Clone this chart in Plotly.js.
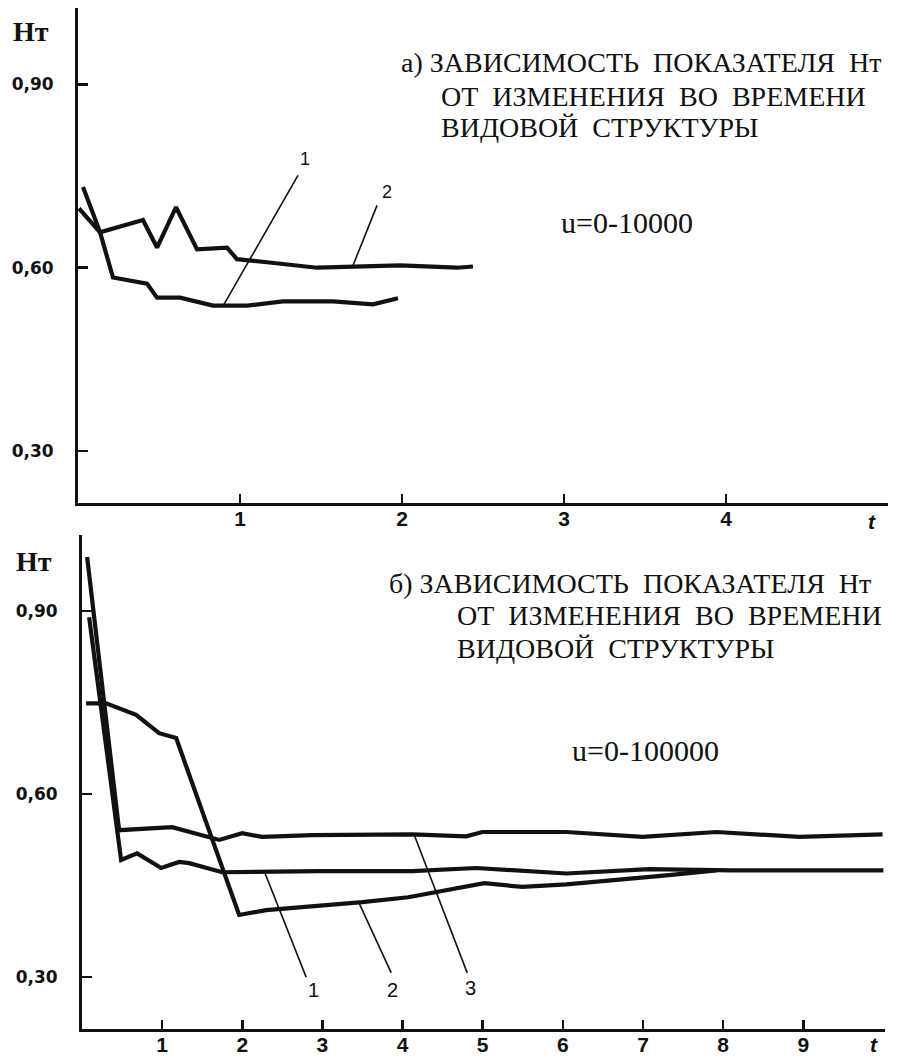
<!DOCTYPE html>
<html>
<head>
<meta charset="utf-8">
<script src="https://cdn.plot.ly/plotly-3.0.1.min.js"></script>
<style>html,body{margin:0;padding:0;background:#fff;}#chart{width:905px;height:1061px;}</style>
</head>
<body>
<div id="chart"></div>
<script>
// ---- data: panel a (u=0-10000) ----
const tTop1 = [0.031,0.136,0.216,0.426,0.488,0.630,0.833,1.043,1.265,1.574,1.821,1.975];
const hTop1 = [0.732,0.658,0.584,0.574,0.551,0.551,0.538,0.538,0.545,0.545,0.540,0.550];
const tTop2 = [0.006,0.136,0.401,0.488,0.605,0.735,0.920,0.981,1.167,1.475,1.988,2.340,2.438];
const hTop2 = [0.697,0.658,0.678,0.633,0.699,0.630,0.633,0.614,0.609,0.600,0.604,0.600,0.602];
// ---- data: panel b (u=0-100000) ----
const tBot1 = [0.089,0.488,0.688,0.988,1.212,1.337,1.749,2.960,4.121,4.920,6.044,7.079,8.114,10.0];
const hBot1 = [0.890,0.492,0.503,0.479,0.489,0.487,0.472,0.474,0.474,0.479,0.470,0.477,0.475,0.475];
const tBot2 = [0.051,0.301,0.675,0.962,1.175,1.961,2.298,3.497,4.071,5.020,5.494,6.044,7.292,7.917];
const hBot2 = [0.749,0.749,0.730,0.700,0.692,0.402,0.410,0.423,0.431,0.454,0.448,0.452,0.467,0.475];
const tBot3 = [0.064,0.463,1.125,1.337,1.712,1.999,2.248,2.873,4.121,4.795,4.995,6.044,6.993,7.917,8.953,9.989];
const hBot3 = [0.989,0.541,0.546,0.538,0.525,0.536,0.530,0.533,0.534,0.531,0.538,0.538,0.530,0.538,0.530,0.534];

// ticks
const yTickVals = [0.3, 0.6, 0.9];
const yTickText = ["0,30", "0,60", "0,90"];
const xTickTop = [1, 2, 3, 4];
const xTickBot = [1, 2, 3, 4, 5, 6, 7, 8, 9];

// curve labels with leader lines: [label, tFrom, hFrom, tTo, hTo, tLabel, hLabel]
const leadersTop = [
  ["1", 1.358, 0.751, 0.901, 0.540, 1.401, 0.778],
  ["2", 1.846, 0.702, 1.698, 0.604, 1.907, 0.724]
];
const leadersBot = [
  ["1", 2.797, 0.300, 2.273, 0.474, 2.885, 0.279],
  ["2", 3.859, 0.307, 3.459, 0.421, 3.871, 0.279],
  ["3", 4.807, 0.307, 4.146, 0.533, 4.845, 0.282]
];

const S = "\u00A0\u00A0";
const titleTop = ["а) ЗАВИСИМОСТЬ" + S + "ПОКАЗАТЕЛЯ" + S + "Нт", "ОТ" + S + "ИЗМЕНЕНИЯ" + S + "ВО" + S + "ВРЕМЕНИ", "ВИДОВОЙ" + S + "СТРУКТУРЫ"];
const titleBot = ["б) ЗАВИСИМОСТЬ" + S + "ПОКАЗАТЕЛЯ" + S + "Нт", "ОТ" + S + "ИЗМЕНЕНИЯ" + S + "ВО" + S + "ВРЕМЕНИ", "ВИДОВОЙ" + S + "СТРУКТУРЫ"];
const uTop = "u=0-10000";
const uBot = "u=0-100000";

const W = 905, H = 1061;
const INK = "#111";
const px = v => v / W;
const py = v => 1 - v / H;

const lineStyle = {color: INK, width: 4.2, shape: "linear"};
function tr(x, y, xa, ya) {
  return {x: x, y: y, xaxis: xa, yaxis: ya, type: "scatter", mode: "lines", line: lineStyle, hoverinfo: "skip", showlegend: false};
}
const data = [
  tr(tTop1, hTop1, "x", "y"),
  tr(tTop2, hTop2, "x", "y"),
  tr(tBot1, hBot1, "x2", "y2"),
  tr(tBot2, hBot2, "x2", "y2"),
  tr(tBot3, hBot3, "x2", "y2")
];

const yTickFont = {family: "DejaVu Sans", size: 17, color: INK, weight: "bold"};
const xTickFont = {family: "Liberation Sans", size: 21, color: INK, weight: "bold"};

function yAxis(domain) {
  return {domain: domain, range: [0.215, 1.025], showline: true, linecolor: INK, linewidth: 3,
    showgrid: false, zeroline: false, ticks: "inside", ticklen: 10, tickwidth: 2.5, tickcolor: INK,
    tickvals: yTickVals, ticktext: yTickText, tickfont: yTickFont, ticklabelstandoff: 18, fixedrange: true};
}
function xAxis(domain, range, vals, anchor) {
  return {domain: domain, range: range, anchor: anchor, showline: true, linecolor: INK, linewidth: 3,
    showgrid: false, zeroline: false, ticks: "inside", ticklen: 9, tickwidth: 2.5, tickcolor: INK,
    tickvals: vals, ticktext: vals.map(String), tickfont: xTickFont, ticklabelstandoff: -5, fixedrange: true};
}

const shapes = [];
const annotations = [];
function addLeaders(list, xa, ya, fs) {
  list.forEach(L => {
    shapes.push({type: "line", xref: xa, yref: ya, x0: L[1], y0: L[2], x1: L[3], y1: L[4],
      line: {color: INK, width: 1.6}});
    annotations.push({xref: xa, yref: ya, x: L[5], y: L[6], text: L[0], showarrow: false,
      font: {family: "Liberation Sans", size: fs, color: INK}, xanchor: "center", yanchor: "middle"});
  });
}
addLeaders(leadersTop, "x", "y", 18);
addLeaders(leadersBot, "x2", "y2", 20);

const serif = {family: "Liberation Serif", size: 28, color: INK};
const serifU = {family: "Liberation Serif", size: 30, color: INK};
function textAt(txt, x, y, font, anchor) {
  annotations.push({xref: "paper", yref: "paper", x: px(x), y: py(y), text: txt, showarrow: false,
    font: font, xanchor: anchor || "left", yanchor: "middle"});
}
// panel a titles
textAt(titleTop[0], 399, 63, serif);
textAt(titleTop[1], 439, 97, serif);
textAt(titleTop[2], 439, 128, serif);
textAt(uTop, 559, 222, serifU);
// panel b titles
textAt(titleBot[0], 387, 583, serif);
textAt(titleBot[1], 455, 615, serif);
textAt(titleBot[2], 455, 648, serif);
textAt(uBot, 570, 750, serifU);
// axis names
const hFont = {family: "Liberation Serif", size: 28, color: INK, weight: "bold"};
textAt("Нт", 11, 31, hFont);
textAt("Нт", 14, 561, hFont);
const tFont = {family: "Liberation Sans", size: 21, color: INK, weight: "bold", style: "italic"};
textAt("t", 872, 521, tFont, "center");
textAt("t", 874, 1044, tFont, "center");

const layout = {
  width: W, height: H,
  margin: {l: 0, r: 0, t: 0, b: 0, pad: 0},
  paper_bgcolor: "#fff", plot_bgcolor: "rgba(0,0,0,0)",
  showlegend: false,
  font: {family: "Liberation Serif", color: INK},
  xaxis: xAxis([px(78), px(888)], [0, 5.0], xTickTop, "y"),
  yaxis: yAxis([py(503), py(8)]),
  xaxis2: xAxis([px(82), px(885)], [0, 10.02], xTickBot, "y2"),
  yaxis2: Object.assign(yAxis([py(1029), py(535)]), {anchor: "x2"}),
  shapes: shapes,
  annotations: annotations
};
layout.yaxis.anchor = "x";

Plotly.newPlot("chart", data, layout, {displayModeBar: false, staticPlot: true});
</script>
</body>
</html>
